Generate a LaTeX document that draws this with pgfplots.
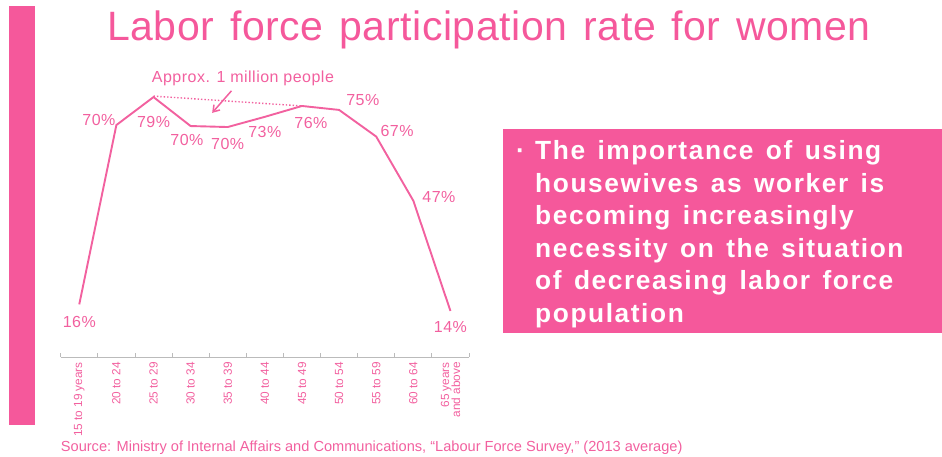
\documentclass[border=0pt]{standalone}
\usepackage{pgfplots}
\pgfplotsset{compat=1.18}
\usetikzlibrary{arrows.meta}
\usepackage{fontspec}
\setmainfont{Liberation Sans}
\newfontfamily\titlefont[LetterSpace=1.5,WordSpace=1.3]{Liberation Sans}
\newfontfamily\boxfont[LetterSpace=6,WordSpace=1.4]{Liberation Sans}
\newfontfamily\labfont[LetterSpace=3]{Liberation Sans}
\definecolor{mypink}{HTML}{F5589B}
\definecolor{linepink}{HTML}{F2619F}
\definecolor{labpink}{HTML}{F2609F}
\definecolor{axgrey}{HTML}{BBBBBB}
\begin{document}
\begin{tikzpicture}
\path[use as bounding box] (0,0) rectangle (942pt,457pt);
% left bar
\fill[mypink] (9pt,32pt) rectangle (35pt,451pt);
% title
\node[anchor=base, inner sep=0, text=mypink, font=\titlefont\fontsize{41}{48}\selectfont] at (489pt,416.5pt) {Labor force participation rate for women};
% right box
\fill[mypink] (503pt,124pt) rectangle (942pt,328pt);
\begin{scope}[every node/.style={anchor=base west, inner sep=0, text=white, font=\boxfont\bfseries\fontsize{26.3}{30}\selectfont}]
\node at (516pt,297pt) {\textperiodcentered};
\node at (535pt,297pt) {The importance of using};
\node at (535pt,264.5pt) {housewives as worker is};
\node at (535pt,232pt) {becoming increasingly};
\node at (535pt,199.5pt) {necessity on the situation};
\node at (535pt,167pt) {of decreasing labor force};
\node at (535pt,134.5pt) {population};
\end{scope}
% source
\node[anchor=base west, inner sep=0, text=labpink, font=\fontsize{14.6}{17}\selectfont] at (60.7pt,5pt) {Source: Ministry of Internal Affairs and Communications, “Labour Force Survey,” (2013 average)};
\begin{axis}[
  at={(60.7pt,100pt)}, anchor=south west,
  scale only axis, width=408.3pt, height=263.2pt,
  xmin=-0.5, xmax=10.5, ymin=0, ymax=80,
  axis x line*=bottom, hide y axis,
  axis line style={axgrey, line width=0.8pt},
  xtick={0,...,10},
  xticklabels={15 to 19 years,20 to 24,25 to 29,30 to 34,35 to 39,40 to 44,45 to 49,50 to 54,55 to 59,60 to 64,{65 years\\and above}},
  major tick length=0pt,
  minor xtick={-0.5,0.5,...,10.5},
  minor tick length=4pt,
  tick align=inside,
  minor tick style={axgrey, line width=0.8pt},
  xticklabel style={rotate=90, anchor=east, align=right, text=labpink, font=\fontsize{11.8}{11}\selectfont, inner sep=0pt, xshift=-5pt},
  clip=false,
]
\addplot[color=linepink, line width=1.9pt, mark=none] coordinates {
(0,16) (1,70.5) (2,79) (3,70.2) (4,69.9) (5,73) (6,76.3) (7,75.1) (8,67) (9,47.5) (10,14)};
\addplot[color=linepink, line width=1.4pt, dotted, mark=none] coordinates {(2,79.3) (6,76.3)};
\draw[linepink, line width=1.5pt, -{Straight Barb[length=6pt,width=8pt]}] (axis cs:4.1,80.9) -- (axis cs:3.58,74.2);
\begin{scope}[every node/.style={text=labpink, font=\labfont\fontsize{16}{18}\selectfont, inner sep=0}]
\node at (axis cs:4.41,84.8) {\fontsize{16}{17}\selectfont Approx. 1 million people};
\node at (axis cs:0,10.6) {16\%};
\node at (axis cs:0.53,72.0) {70\%};
\node at (axis cs:2.0,71.4) {79\%};
\node at (axis cs:2.9,66.0) {70\%};
\node at (axis cs:4.0,64.7) {70\%};
\node at (axis cs:5.0,68.4) {73\%};
\node at (axis cs:6.24,71.1) {76\%};
\node at (axis cs:7.64,78.1) {75\%};
\node at (axis cs:8.56,68.7) {67\%};
\node at (axis cs:9.69,48.6) {47\%};
\node at (axis cs:10.0,9.1) {14\%};
\end{scope}
\end{axis}
\end{tikzpicture}
\end{document}
